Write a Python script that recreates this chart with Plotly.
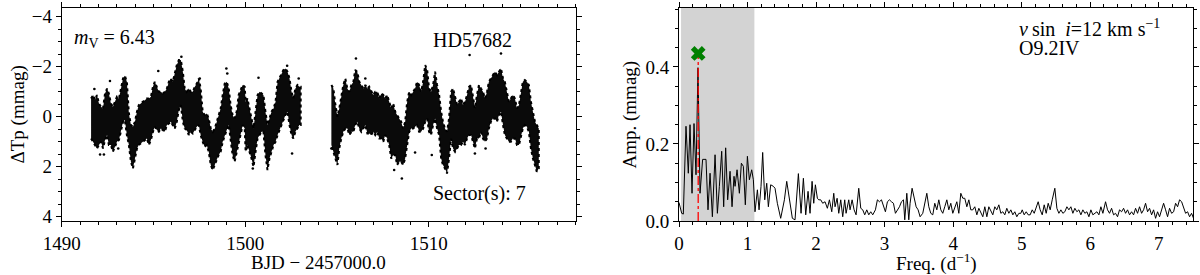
import plotly.graph_objects as go

# ---------------- Light curve (left panel) ----------------
# Envelope of the dense photometric points
lc_time = [
    1491.60, 1491.71, 1491.81, 1491.92, 1492.03, 1492.14, 1492.25, 1492.36, 1492.47, 1492.57,
    1492.68, 1492.79, 1492.90, 1493.01, 1493.12, 1493.23, 1493.34, 1493.44, 1493.55, 1493.66,
    1493.77, 1493.88, 1493.99, 1494.10, 1494.20, 1494.31, 1494.42, 1494.53, 1494.64, 1494.75,
    1494.86, 1494.97, 1495.07, 1495.18, 1495.29, 1495.40, 1495.51, 1495.62, 1495.73, 1495.84,
    1495.94, 1496.05, 1496.16, 1496.27, 1496.38, 1496.49, 1496.60, 1496.70, 1496.81, 1496.92,
    1497.03, 1497.14, 1497.25, 1497.36, 1497.47, 1497.57, 1497.68, 1497.79, 1497.90, 1498.01,
    1498.12, 1498.23, 1498.34, 1498.44, 1498.55, 1498.66, 1498.77, 1498.88, 1498.99, 1499.10,
    1499.20, 1499.31, 1499.42, 1499.53, 1499.64, 1499.75, 1499.86, 1499.97, 1500.02, 1500.12,
    1500.23, 1500.34, 1500.45, 1500.56, 1500.67, 1500.78, 1500.89, 1500.99, 1501.10, 1501.21,
    1501.32, 1501.43, 1501.54, 1501.65, 1501.76, 1501.86, 1501.97, 1502.08, 1502.19, 1502.30,
    1502.41, 1502.52, 1502.62, 1502.73, 1502.84, 1502.95, 1503.02,
    1504.69, 1504.80, 1504.91, 1505.02, 1505.12, 1505.23, 1505.34, 1505.45, 1505.56, 1505.67,
    1505.78, 1505.89, 1505.99, 1506.10, 1506.21, 1506.32, 1506.43, 1506.54, 1506.65, 1506.75,
    1506.86, 1506.97, 1507.08, 1507.19, 1507.30, 1507.41, 1507.52, 1507.62, 1507.73, 1507.84,
    1507.95, 1508.06, 1508.17, 1508.27, 1508.38, 1508.49, 1508.60, 1508.71, 1508.82, 1508.93,
    1509.04, 1509.14, 1509.25, 1509.36, 1509.47, 1509.58, 1509.69, 1509.80, 1509.91, 1510.01,
    1510.12, 1510.23, 1510.34, 1510.45, 1510.56, 1510.67, 1510.77, 1510.88, 1510.99, 1511.10,
    1511.21, 1511.32, 1511.43, 1511.54, 1511.64, 1511.75, 1511.86, 1511.97, 1512.08, 1512.19,
    1512.30, 1512.41, 1512.51, 1512.62, 1512.73, 1512.84, 1512.95, 1513.06, 1513.17, 1513.27,
    1513.38, 1513.49, 1513.60, 1513.71, 1513.82, 1513.93, 1514.04, 1514.14, 1514.25, 1514.36,
    1514.47, 1514.58, 1514.69, 1514.80, 1514.91, 1515.01, 1515.12, 1515.23, 1515.34, 1515.45,
    1515.56, 1515.67, 1515.78, 1515.88, 1515.99,
]
lc_top = [  # brightest edge of the point cloud (mmag)
    -0.73, -0.87, -0.67, -0.87, -0.53, -0.40, -0.33, -0.93, -1.13, -0.93,
    -0.53, -0.40, -0.60, -0.80, -0.73, -1.13, -1.53, -1.64, -1.40, -0.13,
    0.33, 0.40, 0.20, -0.20, -0.47, -0.53, -0.60, -0.67, -0.73, -0.73,
    -0.80, -1.20, -1.40, -1.20, -1.00, -1.00, -0.93, -1.00, -1.13, -1.40,
    -1.53, -1.40, -1.73, -2.07, -2.27, -2.27, -1.80, -1.13, -1.00, -1.13,
    -1.00, -1.00, -1.20, -1.33, -1.53, -1.13, -0.20, -0.07, -0.13, 0.07,
    0.47, 0.60, 0.47, 0.20, -0.07, -0.33, -0.87, -1.33, -1.40, -1.13,
    -0.47, -0.07, 0.07, -0.20, -0.87, -1.07, -1.27, -1.20, -0.60, -0.73,
    -0.33, 0.20, 0.47, -0.20, -0.87, -1.00, -0.93, -0.87, -0.20, 0.33,
    0.07, -0.20, -0.33, -0.60, -1.40, -1.53, -1.67, -1.87, -1.93, -1.80,
    -1.53, -1.00, -0.73, -1.13, -1.27, -1.20, -1.20,
    -1.27, -1.13, -0.47, 0.00, -0.33, -0.87, -1.27, -1.53, -1.13, -1.00,
    -1.27, -1.40, -1.87, -1.80, -1.40, -1.27, -1.13, -1.27, -1.13, -1.20,
    -1.00, -0.87, -1.00, -1.00, -0.73, -0.93, -0.87, -0.73, -0.87, -0.60,
    -0.33, -0.53, -0.20, -0.07, 0.07, 0.20, 0.47, 0.20, -0.60, -1.00,
    -0.87, -1.00, -1.13, -1.40, -1.27, -1.00, -1.40, -2.07, -1.87, -1.13,
    -1.00, -1.27, -1.80, -1.27, -0.87, -0.20, 0.20, 0.47, 0.60, 0.07,
    -1.00, -1.13, -0.73, -0.47, -0.60, -0.73, -0.47, -0.60, -0.87, -1.20,
    -1.27, -0.73, -0.33, -0.87, -1.27, -1.13, -1.00, -0.73, -1.00, -1.40,
    -1.53, -1.67, -1.80, -1.67, -1.80, -1.93, -1.53, -1.40, -1.00, -0.60,
    -0.73, -0.87, -0.73, -0.33, -0.47, -1.00, -1.40, -1.47, -1.40, -1.27,
    -0.60, -0.20, 0.20, 0.33, 0.47,
]
lc_bottom = [  # faintest edge of the point cloud (mmag)
    0.87, 1.00, 1.13, 1.27, 1.13, 1.00, 1.27, 0.93, 0.73, 1.13,
    1.13, 1.40, 1.20, 1.00, 0.93, 0.60, 0.20, 0.13, 0.73, 1.13,
    1.80, 2.07, 1.67, 1.27, 1.13, 1.07, 1.00, 0.93, 0.87, 1.13,
    0.93, 0.60, 0.40, 0.53, 0.60, 0.47, 0.53, 0.60, 0.33, 0.27,
    0.20, 0.33, 0.47, 0.20, -0.27, -0.47, 0.20, 0.47, 0.53, 0.73,
    0.60, 0.67, 0.53, 0.40, 0.33, 0.73, 1.00, 1.20, 1.13, 1.40,
    1.93, 2.13, 1.93, 1.73, 1.53, 1.40, 1.00, 0.73, 0.53, 0.33,
    1.00, 1.53, 1.80, 1.40, 1.00, 0.67, 0.33, 0.47, 1.40, 1.13,
    1.40, 1.67, 2.00, 1.40, 0.87, 0.73, 0.60, 0.60, 1.53, 2.13,
    1.67, 1.40, 1.13, 1.00, 0.73, 0.47, 0.33, 0.13, -0.07, -0.20,
    0.33, 0.73, 0.87, 0.60, 0.47, 0.33, 0.33,
    1.13, 1.40, 1.67, 1.93, 1.27, 0.87, 0.60, 0.47, 0.47, 0.73,
    0.60, 0.60, 0.33, 0.20, 0.47, 0.60, 0.47, 0.33, 0.67, 0.67,
    0.73, 0.60, 0.73, 0.60, 0.87, 0.87, 1.00, 0.73, 0.87, 1.13,
    1.67, 1.53, 1.53, 1.93, 1.80, 1.80, 1.93, 1.67, 1.13, 0.60,
    0.47, 0.47, 0.40, 0.33, 0.60, 0.60, 0.47, 0.20, 0.07, 0.60,
    0.73, 0.33, 0.07, 0.47, 0.73, 1.67, 1.93, 2.07, 2.27, 1.67,
    0.87, 1.27, 1.40, 1.27, 1.13, 1.13, 1.00, 1.13, 0.87, 0.73,
    0.73, 1.00, 1.27, 0.87, 0.87, 0.60, 0.87, 1.00, 0.87, 0.47,
    0.20, 0.07, 0.07, 0.20, -0.07, -0.20, 0.33, 0.73, 0.87, 1.00,
    1.00, 0.87, 0.87, 1.13, 1.13, 0.87, 0.47, 0.33, 0.40, 0.60,
    1.27, 1.67, 1.93, 2.20, 2.07,
]
# isolated points lying outside the dense cloud
out_time = [1491.78, 1492.63, 1495.26, 1498.97, 1499.02, 1492.09, 1492.30, 1493.08, 1497.52,
            1496.52, 1506.03, 1500.72, 1502.28, 1502.91, 1502.55, 1504.69, 1506.54, 1500.41,
            1512.22, 1513.93, 1508.53, 1512.51, 1513.09, 1509.25, 1510.16, 1508.11]
out_mag = [-1.11, -1.43, -1.83, -1.93, -1.73, 1.51, 1.51, 1.27, -1.53,
           -2.40, -2.33, -1.56, -2.04, -1.53, 1.47, 1.27, -1.53, 2.07,
           -2.47, -2.53, 2.47, 1.47, 1.27, 1.43, 1.53, 2.13]

# ---------------- Amplitude spectrum (right panel) ----------------
freq = [
    0.000, 0.039, 0.063, 0.102, 0.136, 0.161, 0.190, 0.219, 0.248, 0.277,
    0.307, 0.345, 0.394, 0.423, 0.453, 0.487, 0.526, 0.560, 0.589, 0.623,
    0.652, 0.681, 0.710, 0.745, 0.774, 0.803, 0.818, 0.847, 0.881, 0.910,
    0.939, 0.968, 0.998, 1.027, 1.061, 1.085, 1.109, 1.144, 1.168, 1.197,
    1.221, 1.251, 1.280, 1.304, 1.338, 1.377, 1.401, 1.435, 1.484, 1.538,
    1.572, 1.611, 1.654, 1.693, 1.742, 1.781, 1.815, 1.849, 1.883, 1.912,
    1.942, 1.966, 1.990, 2.019, 2.039, 2.068, 2.097, 2.131, 2.165, 2.195,
    2.229, 2.258, 2.277, 2.307, 2.331, 2.360, 2.389, 2.418,
    2.438, 2.477, 2.496, 2.526, 2.555, 2.584, 2.623, 2.652, 2.681, 2.710,
    2.740, 2.769, 2.798, 2.827, 2.866, 2.895, 2.925, 2.954, 2.983, 3.012,
    3.041, 3.071, 3.100, 3.129, 3.158, 3.187, 3.217, 3.246, 3.275, 3.294,
    3.324, 3.353, 3.372, 3.401, 3.431, 3.460, 3.489, 3.518, 3.557, 3.586,
    3.616, 3.645, 3.674, 3.703, 3.732, 3.762, 3.791, 3.820, 3.849, 3.878,
    3.908, 3.937, 3.966, 3.995, 4.024, 4.054, 4.083, 4.112, 4.141, 4.170,
    4.200, 4.229, 4.258, 4.287, 4.316, 4.346, 4.375, 4.404, 4.433, 4.462,
    4.492, 4.521, 4.550, 4.579, 4.608, 4.637, 4.667, 4.696, 4.725, 4.754,
    4.783, 4.813, 4.842, 4.871, 4.900, 4.929, 4.959, 4.988,
    5.008, 5.037, 5.066, 5.095, 5.124, 5.154, 5.183, 5.212, 5.241, 5.270,
    5.300, 5.329, 5.358, 5.387, 5.416, 5.446, 5.484, 5.514, 5.543, 5.572,
    5.601, 5.630, 5.660, 5.689, 5.718, 5.747, 5.776, 5.806, 5.835, 5.864,
    5.893, 5.922, 5.952, 5.981, 6.010, 6.039, 6.068, 6.098, 6.127, 6.156,
    6.185, 6.224, 6.253, 6.282, 6.312, 6.341, 6.370, 6.399, 6.428, 6.458,
    6.487, 6.516, 6.545, 6.574, 6.604, 6.633, 6.662, 6.691, 6.720, 6.750,
    6.779, 6.808, 6.837, 6.866, 6.896, 6.925, 6.954, 6.983, 7.012, 7.042,
    7.071, 7.100, 7.129, 7.158, 7.188, 7.217, 7.246, 7.275, 7.304, 7.334,
    7.363, 7.392, 7.421, 7.450, 7.479, 7.508,
]
amp = [
    0.048, 0.020, 0.018, 0.246, 0.124, 0.250, 0.072, 0.253, 0.120, 0.398,
    0.072, 0.160, 0.160, 0.029, 0.124, 0.011, 0.172, 0.020, 0.090, 0.181,
    0.037, 0.190, 0.055, 0.129, 0.037, 0.116, 0.090, 0.133, 0.072, 0.150,
    0.142, 0.042, 0.168, 0.107, 0.133, 0.107, 0.024, 0.081, 0.029, 0.090,
    0.178, 0.055, 0.098, 0.037, 0.094, 0.090, 0.085, 0.046, 0.007, 0.055,
    0.103, 0.055, 0.007, 0.003, 0.123, 0.020, 0.111, 0.016, 0.077, 0.020,
    0.103, 0.046, 0.094, 0.059, 0.055, 0.055, 0.046, 0.050, 0.033, 0.055,
    0.024, 0.072, 0.037, 0.059, 0.020, 0.055, 0.011, 0.055,
    0.020, 0.055, 0.029, 0.055, 0.029, 0.016, 0.085, 0.033, 0.029, 0.016,
    0.029, 0.016, 0.024, 0.016, 0.029, 0.055, 0.050, 0.055, 0.042, 0.024,
    0.050, 0.055, 0.050, 0.046, 0.020, 0.029, 0.037, 0.050, 0.055, 0.003,
    0.072, 0.003, 0.046, 0.085, 0.055, 0.037, 0.029, 0.011, 0.020, 0.042,
    0.072, 0.037, 0.020, 0.016, 0.046, 0.029, 0.055, 0.029, 0.020, 0.037,
    0.055, 0.029, 0.046, 0.020, 0.037, 0.050, 0.020, 0.072, 0.059, 0.059,
    0.037, 0.055, 0.029, 0.029, 0.037, 0.016, 0.033, 0.020, 0.011, 0.037,
    0.011, 0.037, 0.024, 0.016, 0.037, 0.029, 0.042, 0.020, 0.024, 0.016,
    0.033, 0.020, 0.029, 0.016, 0.024, 0.011, 0.020, 0.020,
    0.029, 0.016, 0.024, 0.016, 0.016, 0.029, 0.020, 0.037, 0.050, 0.029,
    0.016, 0.042, 0.020, 0.046, 0.029, 0.055, 0.085, 0.033, 0.020, 0.029,
    0.020, 0.024, 0.037, 0.029, 0.037, 0.020, 0.033, 0.024, 0.029, 0.016,
    0.029, 0.020, 0.024, 0.011, 0.029, 0.016, 0.020, 0.024, 0.016, 0.037,
    0.020, 0.050, 0.029, 0.020, 0.033, 0.016, 0.020, 0.011, 0.029, 0.024,
    0.033, 0.020, 0.029, 0.016, 0.024, 0.016, 0.033, 0.020, 0.037, 0.020,
    0.029, 0.046, 0.024, 0.033, 0.016, 0.029, 0.007, 0.024, 0.011, 0.029,
    0.046, 0.029, 0.011, 0.033, 0.020, 0.024, 0.046, 0.037, 0.055, 0.050,
    0.033, 0.020, 0.024, 0.011, 0.020, 0.007,
]
peak_freq = 0.28
peak_marker_amp = 0.435
shade_range = [0.03, 1.10]

star_name = "HD57682"
mag_text = "<i>m</i><sub>V</sub> = 6.43"
sector_text = "Sector(s): 7"
vsini_text = "<i>v</i>\u2009sin\u2002<i>i</i>=12 km s<sup>−1</sup>"
sptype_text = "O9.2IV"

FONT = "Liberation Serif"
W, H = 1200, 275

def px(x):
    return x / W

def py(y):
    return 1 - y / H

fig = go.Figure()

# split light curve at the data gap
gap = [i for i in range(1, len(lc_time)) if lc_time[i] - lc_time[i - 1] > 1.0][0]
for a, b in [(0, gap), (gap, len(lc_time))]:
    t = lc_time[a:b]
    top = lc_top[a:b]
    bot = lc_bottom[a:b]
    fig.add_trace(go.Scatter(
        x=t + t[::-1], y=top + bot[::-1], fill="toself", mode="lines",
        fillcolor="#0a0a0a", line=dict(color="#000000", width=2, dash="dot"),
        xaxis="x", yaxis="y", showlegend=False, hoverinfo="skip"))

fig.add_trace(go.Scatter(x=out_time, y=out_mag, mode="markers",
                         marker=dict(color="black", size=2.6), xaxis="x", yaxis="y",
                         showlegend=False))

# right panel
fig.add_shape(type="rect", xref="x2", yref="y2 domain", x0=shade_range[0], x1=shade_range[1],
              y0=0, y1=1, fillcolor="#d3d3d3", line=dict(width=0), layer="below")
fig.add_trace(go.Scatter(x=freq, y=amp, mode="lines", line=dict(color="black", width=1),
                         xaxis="x2", yaxis="y2", showlegend=False))
fig.add_trace(go.Scatter(x=[peak_freq, peak_freq], y=[0, peak_marker_amp], mode="lines",
                         line=dict(color="red", width=1.3, dash="dashdot"),
                         xaxis="x2", yaxis="y2", showlegend=False))
fig.add_trace(go.Scatter(x=[peak_freq], y=[peak_marker_amp], mode="markers",
                         marker=dict(symbol="x", color="green", size=13, line=dict(width=0)),
                         xaxis="x2", yaxis="y2", showlegend=False))

axis_common = dict(showline=True, linecolor="black", linewidth=1, mirror="allticks",
                   ticks="outside", ticklen=5, tickwidth=1, tickcolor="black",
                   showgrid=False, zeroline=False, automargin=False,
                   tickfont=dict(family=FONT, size=19, color="black"))

ydom = [py(221), py(8)]
fig.update_layout(
    width=W, height=H, margin=dict(l=0, r=0, t=0, b=0),
    paper_bgcolor="white", plot_bgcolor="white",
    font=dict(family=FONT, size=19, color="black"),
    xaxis=dict(domain=[px(61.7), px(575.7)], range=[1490, 1518], dtick=10, tick0=1490,
               minor=dict(dtick=1, ticks="outside", ticklen=3, tickcolor="black"),
               anchor="y", **axis_common),
    yaxis=dict(domain=ydom, range=[4.17, -4.35], dtick=2, tick0=0,
               minor=dict(dtick=0.5, ticks="outside", ticklen=3, tickcolor="black"),
               anchor="x", **axis_common),
    xaxis2=dict(domain=[px(679), px(1193)], range=[0, 7.5], dtick=1, tick0=0,
                minor=dict(dtick=0.2, ticks="outside", ticklen=3, tickcolor="black"),
                anchor="y2", **axis_common),
    yaxis2=dict(domain=ydom, range=[0, 0.553], dtick=0.2, tick0=0, tickformat=".1f",
                minor=dict(dtick=0.05, ticks="outside", ticklen=3, tickcolor="black"),
                anchor="x2", **axis_common),
)

def note(text, x, y, xanchor="left", yanchor="middle", angle=0, size=20):
    fig.add_annotation(text=text, x=x, y=y, xref="paper", yref="paper", showarrow=False,
                       xanchor=xanchor, yanchor=yanchor, textangle=angle,
                       font=dict(family=FONT, size=size, color="black"))

note(mag_text, px(72), py(38))
note(star_name, px(431), py(40))
note(sector_text, px(431), py(193))
note(vsini_text, px(1017), py(28))
note(sptype_text, px(1017), py(48))
note("ΔTp (mmag)", px(17), py(114.5), xanchor="center", angle=-90, size=19)
note("Amp. (mmag)", px(629), py(114.5), xanchor="center", angle=-90, size=19)
note("BJD − 2457000.0", px(318), py(262), xanchor="center", size=19)
note("Freq. (d<sup>−1</sup>)", px(936), py(262), xanchor="center", size=19)

fig.write_html("out.html", config={"displayModeBar": False},
               post_script="document.body.style.margin='0px';")
